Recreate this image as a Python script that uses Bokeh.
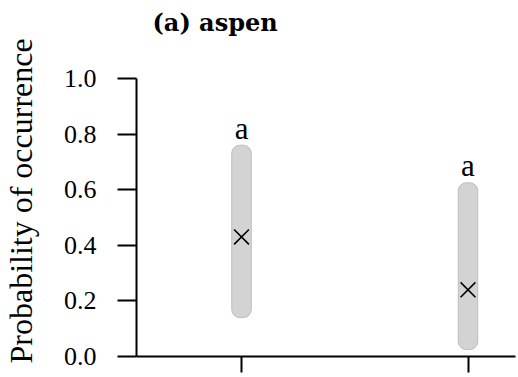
from bokeh.plotting import figure
from bokeh.models import Range1d, FixedTicker, ColumnDataSource, Title
from bokeh.core.properties import value
from bokeh.embed import file_html
from bokeh.resources import INLINE

# Data
positions = [1, 2]
lower = [0.14, 0.025]
upper = [0.76, 0.625]
mean = [0.43, 0.24]
letters = ["a", "a"]
y_ticks = [0.0, 0.2, 0.4, 0.6, 0.8, 1.0]
title_text = "(a) aspen"
y_label = "Probability of occurrence"

src = ColumnDataSource(dict(x=positions, lo=lower, hi=upper, m=mean, lab=letters))

p = figure(width=518, height=377, output_backend="svg", toolbar_location=None,
           x_range=Range1d(0.5364, 2.2097), y_range=Range1d(0.0, 1.0),
           min_border_left=136, min_border_right=3, min_border_top=78,
           min_border_bottom=21)
p.title = None

# spacer between frame and title, then the title
p.add_layout(Title(text=" ", text_font_size="10px", standoff=29), "above")
p.add_layout(Title(text=title_text, text_font="DejaVu Serif", text_font_style="bold",
                   text_font_size="24px", align="left", offset=16, standoff=0,
                   text_color="black"), "above")

# spacer between axis and y label, then the y label
p.add_layout(Title(text=" ", text_font_size="10px", standoff=9), "left")
p.add_layout(Title(text=y_label, text_font="Liberation Serif",
                   text_font_style="normal", text_font_size="32px",
                   align="left", offset=-7, standoff=0, text_color="black"), "left")

p.outline_line_color = None
p.xgrid.visible = False
p.ygrid.visible = False
p.background_fill_color = "white"
p.border_fill_color = "white"

# bars (confidence ranges)
p.vbar(x="x", bottom="lo", top="hi", width=0.086, source=src,
       fill_color="#d3d3d3", line_color="#bdbdbd", line_width=1, border_radius=8)
# means
p.scatter(x="x", y="m", source=src, marker="x", size=21, line_color="black",
          line_width=1.6)
# letters
p.text(x="x", y="hi", text="lab", source=src, text_font=value("Liberation Serif"),
       text_font_size="31px", text_align="center", text_baseline="alphabetic",
       y_offset=-17, text_color="black")

# y axis
ya = p.yaxis[0]
ya.ticker = FixedTicker(ticks=y_ticks)
ya.major_label_overrides = {t: f"{t:.1f}" for t in y_ticks}
ya.major_tick_out = 19
ya.major_tick_in = 0
ya.minor_tick_out = 0
ya.minor_tick_in = 0
ya.axis_line_width = 2
ya.major_tick_line_width = 2
ya.axis_line_color = "black"
ya.major_tick_line_color = "black"
ya.major_label_text_font = "Liberation Serif"
ya.major_label_text_font_size = "26px"
ya.major_label_text_color = "black"
ya.major_label_standoff = 21

# x axis
xa = p.xaxis[0]
xa.ticker = FixedTicker(ticks=positions)
xa.major_label_overrides = {1: "", 2: ""}
xa.major_label_standoff = 0
xa.major_tick_out = 16
xa.major_tick_in = 0
xa.minor_tick_out = 0
xa.minor_tick_in = 0
xa.axis_line_width = 2
xa.major_tick_line_width = 2
xa.axis_line_color = "black"
xa.major_tick_line_color = "black"

open("out.html", "w").write(file_html(p, INLINE))
